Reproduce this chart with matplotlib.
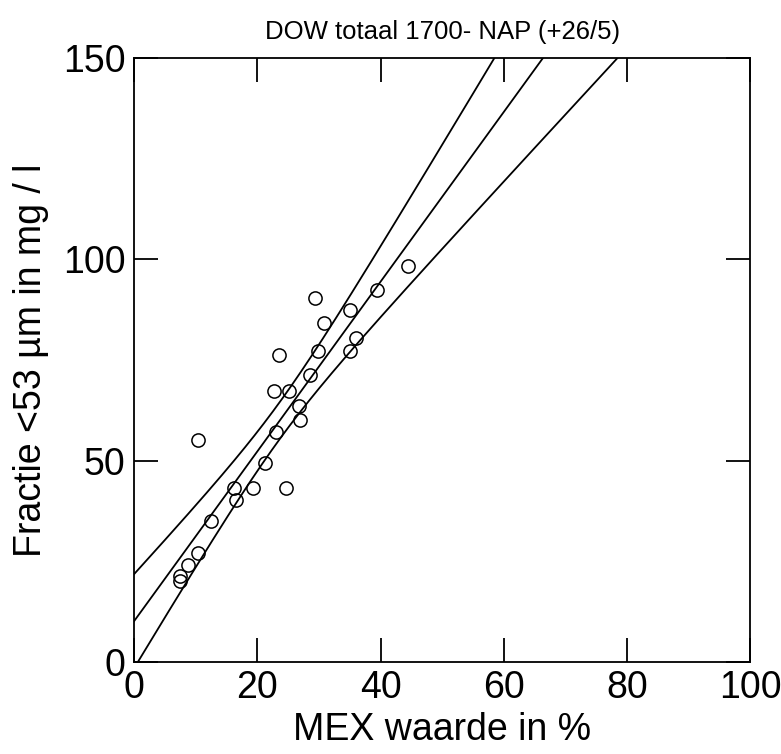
import numpy as np
import matplotlib.pyplot as plt

# MEX waarde (%) en fractie <53 um (mg/l)
mex = [10.4, 23.0, 21.2, 16.3, 19.3, 24.6, 16.6, 12.5, 10.4, 8.7, 7.5, 7.4, 27.0,
       44.5, 29.3, 39.5, 35.0, 30.9, 23.5, 36.1, 35.1, 29.9, 28.5, 22.7, 25.2, 26.7]
fractie = [55.2, 57.1, 49.4, 43.2, 43.2, 43.2, 40.3, 35.1, 27.0, 24.1, 21.4, 20.0, 60.2,
           98.3, 90.3, 92.4, 87.4, 84.3, 76.3, 80.5, 77.2, 77.2, 71.4, 67.3, 67.3, 63.5]

xticks = [0, 20, 40, 60, 80, 100]
yticks = [0, 50, 100, 150]

plt.rcParams['font.family'] = ['Liberation Sans', 'DejaVu Sans']

x = np.array(mex)
y = np.array(fractie)
n = len(x)

# lineaire regressie met betrouwbaarheidsband
b, a = np.polyfit(x, y, 1)
res = y - (a + b * x)
s = np.sqrt(np.sum(res**2) / (n - 2))
sxx = np.sum((x - x.mean())**2)
t = 2.5
xl = np.linspace(0, 100, 400)
yl = a + b * xl
w = t * s * np.sqrt(1 / n + (xl - x.mean())**2 / sxx)

fig = plt.figure(figsize=(7.81, 7.54), dpi=100)
ax = fig.add_axes([0.1716, 0.122, 0.789, 0.801])

ax.plot(xl, yl, color='black', lw=1.3)
ax.plot(xl, yl + w, color='black', lw=1.3)
ax.plot(xl, yl - w, color='black', lw=1.3)
ax.plot(x, y, 'o', mfc='none', mec='black', ms=9.5, mew=1.1)

ax.set_xlim(0, 100)
ax.set_ylim(0, 150)
ax.set_xticks(xticks)
ax.set_yticks(yticks)
ax.tick_params(direction='in', length=17, width=1.3, top=True, right=True,
               labelsize=27, pad=6)
for sp in ax.spines.values():
    sp.set_linewidth(1.3)

ax.set_xlabel('MEX waarde in %', fontsize=27, labelpad=4)
ax.set_ylabel('Fractie <53 µm in mg / l', fontsize=27, labelpad=10)
ax.set_title('DOW totaal 1700- NAP (+26/5)', fontsize=18.5, pad=14)

plt.savefig('out.png', dpi=100)
